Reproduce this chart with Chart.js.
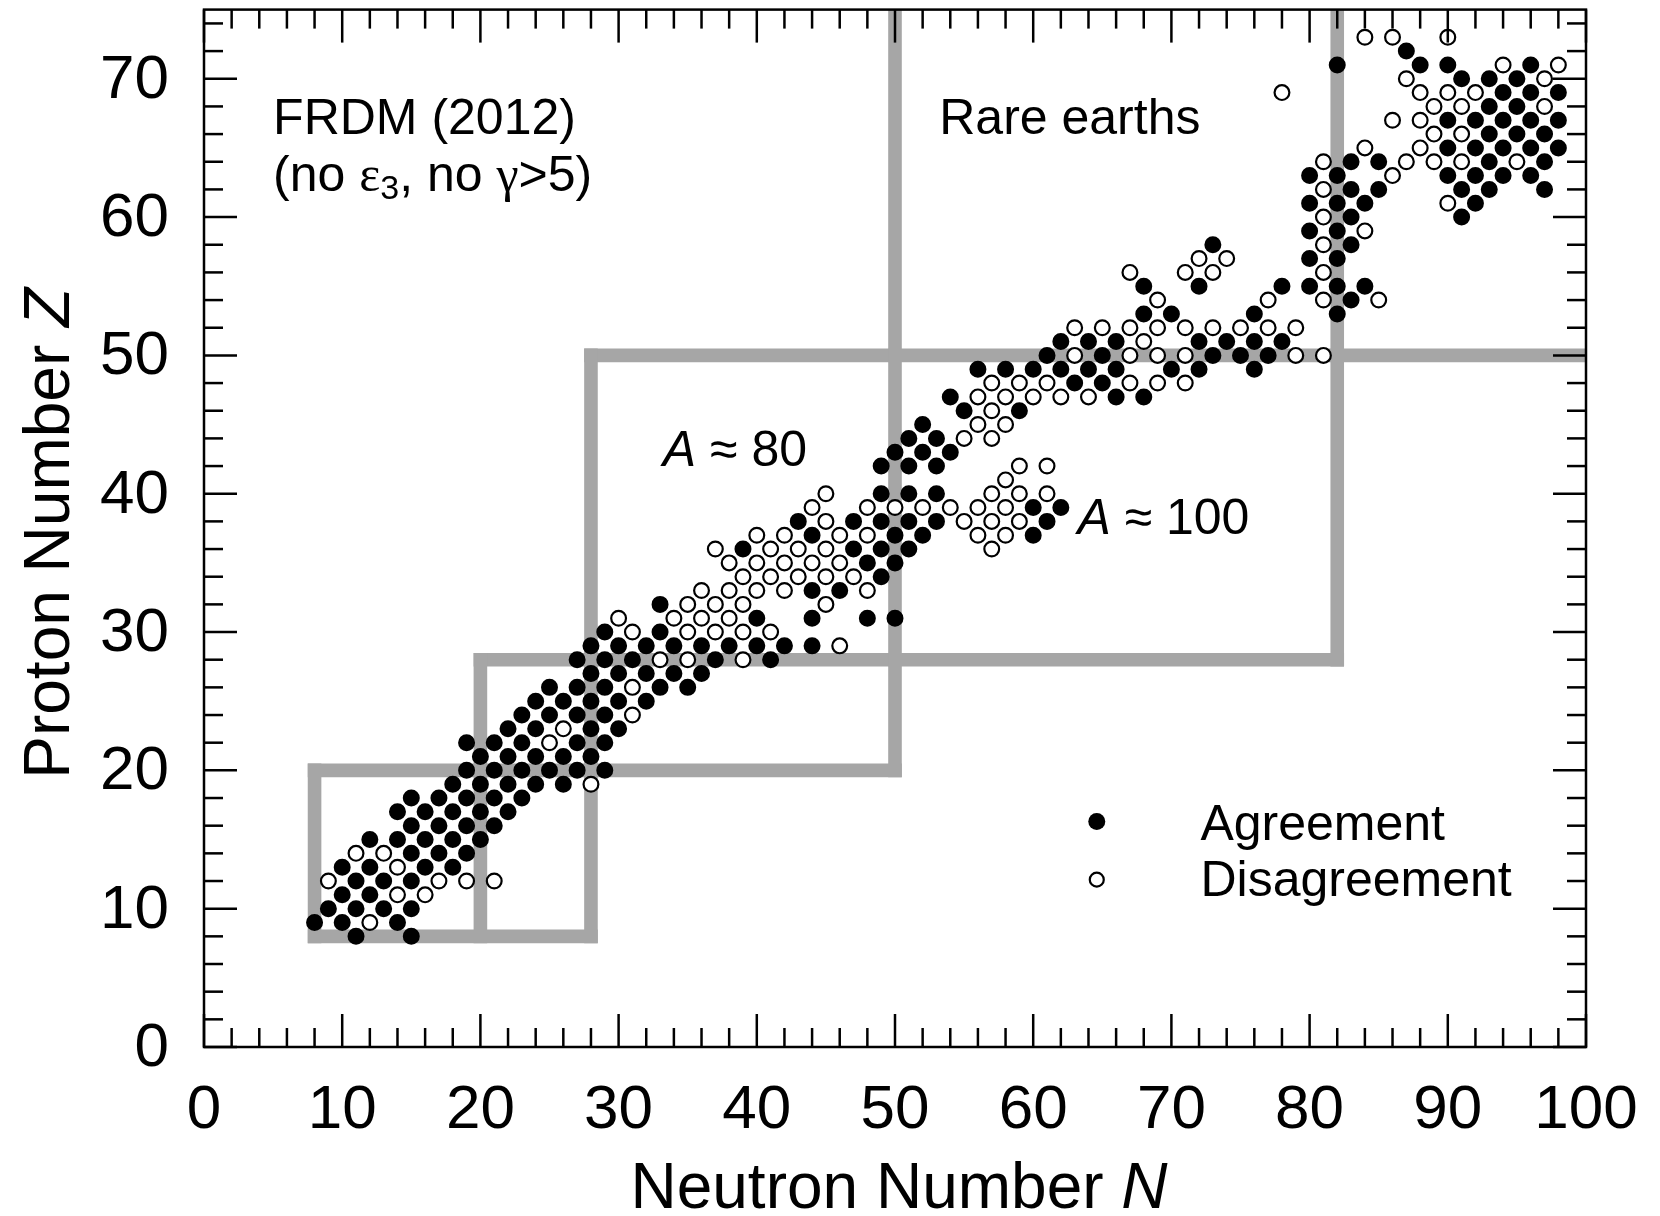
<!DOCTYPE html>
<html>
<head>
<meta charset="utf-8">
<title>FRDM (2012) agreement chart</title>
<script src="https://cdn.jsdelivr.net/npm/chart.js@4.4.1/dist/chart.umd.min.js"></script>
<style>
    html, body { margin: 0; padding: 0; background: #ffffff; }
    #wrap { width: 1660px; height: 1216px; }
</style>
</head>
<body>
<div id="wrap"><canvas id="chart" width="1660" height="1216"></canvas></div>
<script>
// --- Data: each row is [Z, [N, N, ...]] ---
const agreement = [
    [8, [11, 15]],
    [9, [8, 10, 14]],
    [10, [9, 11, 13, 15]],
    [11, [10, 12]],
    [12, [11, 13, 15]],
    [13, [10, 12, 16, 18]],
    [14, [15, 17, 19]],
    [15, [12, 14, 16, 18, 20]],
    [16, [15, 17, 19, 21]],
    [17, [14, 16, 18, 20, 22]],
    [18, [15, 17, 19, 21, 23]],
    [19, [18, 20, 22, 24, 26]],
    [20, [19, 21, 23, 25, 27, 29]],
    [21, [20, 22, 24, 26, 28]],
    [22, [19, 21, 23, 27, 29]],
    [23, [22, 24, 28, 30]],
    [24, [23, 25, 27, 29]],
    [25, [24, 26, 28, 30, 32]],
    [26, [25, 27, 29, 33, 35]],
    [27, [28, 30, 32, 34, 36]],
    [28, [27, 29, 31, 37, 41]],
    [29, [28, 30, 32, 34, 36, 38, 40, 42, 44]],
    [30, [29, 33]],
    [31, [40, 44, 48, 50]],
    [32, [33]],
    [33, [44, 46]],
    [34, [49]],
    [35, [48, 50]],
    [36, [39, 47, 49, 51]],
    [37, [44, 50, 52, 60]],
    [38, [43, 47, 49, 51, 53, 61]],
    [39, [60, 62]],
    [40, [49, 51, 53]],
    [42, [49, 51, 53]],
    [43, [50, 52, 54]],
    [44, [51, 53]],
    [45, [52]],
    [46, [55, 59]],
    [47, [54, 66, 68]],
    [48, [63, 65]],
    [49, [56, 58, 60, 62, 64, 66, 70, 72, 76]],
    [50, [61, 65, 73, 75, 77]],
    [51, [62, 64, 66, 72, 74, 76, 78]],
    [53, [68, 70, 76, 82]],
    [54, [83]],
    [55, [68, 72, 78, 80, 82, 84]],
    [57, [80, 82]],
    [58, [73, 83]],
    [59, [80, 82]],
    [60, [83, 91]],
    [61, [80, 82, 84, 92]],
    [62, [83, 85, 91, 93, 97]],
    [63, [80, 82, 90, 92, 94, 96]],
    [64, [83, 85, 93, 97]],
    [65, [90, 92, 94, 96, 98]],
    [66, [93, 95, 97]],
    [67, [90, 92, 94, 96, 98]],
    [68, [93, 95]],
    [69, [94, 96, 98]],
    [70, [91, 93, 95]],
    [71, [82, 88, 90, 96]],
    [72, [87]],
];

const disagreement = [
    [9, [12]],
    [11, [14, 16]],
    [12, [9, 17, 19, 21]],
    [13, [14]],
    [14, [11, 13]],
    [19, [28]],
    [22, [25]],
    [23, [26]],
    [24, [31]],
    [26, [31]],
    [28, [33, 35, 39]],
    [29, [46]],
    [30, [31, 35, 37, 39, 41]],
    [31, [30, 34, 36, 38]],
    [32, [35, 37, 39, 45]],
    [33, [36, 38, 40, 42, 48]],
    [34, [39, 41, 43, 45, 47]],
    [35, [38, 40, 42, 44, 46]],
    [36, [37, 41, 43, 45, 57]],
    [37, [40, 42, 46, 48, 56, 58]],
    [38, [45, 55, 57, 59]],
    [39, [44, 48, 50, 52, 54, 56, 58]],
    [40, [45, 57, 59, 61]],
    [41, [58]],
    [42, [59, 61]],
    [44, [55, 57]],
    [45, [56, 58]],
    [46, [57]],
    [47, [56, 58, 60, 62, 64]],
    [48, [57, 59, 61, 67, 69, 71]],
    [50, [63, 67, 69, 71, 79, 81]],
    [51, [68]],
    [52, [63, 65, 67, 69, 71, 73, 75, 77, 79]],
    [54, [69, 77, 81, 85]],
    [56, [67, 71, 73, 81]],
    [57, [72, 74]],
    [58, [81]],
    [59, [84]],
    [60, [81]],
    [61, [90]],
    [62, [81]],
    [63, [86]],
    [64, [81, 87, 89, 91, 95]],
    [65, [84, 88]],
    [66, [89, 91]],
    [67, [86, 88]],
    [68, [89, 91, 97]],
    [69, [78, 88, 90, 92]],
    [70, [87, 97]],
    [71, [94, 98]],
    [73, [84, 86, 90]],
];

// Grey region boundaries (magic numbers), each [[N, Z], [N, Z]]
const boundaries = [
    [[8, 8], [8, 20]],
    [[8, 20], [50, 20]],
    [[50, 20], [50, 75]],
    [[8, 8], [28, 8]],
    [[20, 8], [20, 28]],
    [[20, 28], [82, 28]],
    [[28, 8], [28, 50]],
    [[28, 50], [100, 50]],
    [[82, 28], [82, 75]],
];

const xTickLabels = ['0', '10', '20', '30', '40', '50', '60', '70', '80', '90', '100'];
const yTickLabels = ['0', '10', '20', '30', '40', '50', '60', '70'];
const xRange = [0, 100];
const yRange = [0, 75];

// --- Helpers ---
const SANS = '"Liberation Sans", Arial, Helvetica, sans-serif';
const SERIF = '"Liberation Serif", "Times New Roman", serif';

function toPoints(rows) {
    const pts = [];
    rows.forEach(([z, ns]) => ns.forEach(n => pts.push({ x: n, y: z })));
    return pts;
}

// draws a list of text runs one after another, returns total width
function drawRuns(ctx, runs, x, y, measureOnly = false) {
    let cx = x;
    runs.forEach(r => {
        ctx.font = r.font;
        if (!measureOnly) ctx.fillText(r.text, cx, y + (r.dy || 0));
        cx += ctx.measureText(r.text).width;
    });
    return cx - x;
}

function tickLine(ctx, x1, y1, x2, y2) {
    ctx.beginPath();
    ctx.moveTo(x1, y1);
    ctx.lineTo(x2, y2);
    ctx.stroke();
}

// --- Frame, inward ticks, labels and annotations ---
const decorPlugin = {
    id: 'decor',
    afterDatasetsDraw(chart) {
        const { ctx, chartArea: a, scales: { x, y } } = chart;
        ctx.save();
        ctx.strokeStyle = '#000';
        ctx.fillStyle = '#000';
        ctx.lineWidth = 2.5;
        ctx.lineCap = 'butt';

        // ticks every 2, long ones every 10, on all four sides
        for (let n = xRange[0]; n <= xRange[1]; n += 2) {
            const px = x.getPixelForValue(n);
            const len = n % 10 === 0 ? 33 : 19;
            tickLine(ctx, px, a.bottom, px, a.bottom - len);
            tickLine(ctx, px, a.top, px, a.top + len);
        }
        for (let z = yRange[0]; z <= yRange[1]; z += 2) {
            const py = y.getPixelForValue(z);
            const len = z % 10 === 0 ? 33 : 19;
            tickLine(ctx, a.left, py, a.left + len, py);
            tickLine(ctx, a.right, py, a.right - len, py);
        }
        ctx.strokeRect(a.left, a.top, a.right - a.left, a.bottom - a.top);

        // tick labels
        ctx.font = `62px ${SANS}`;
        ctx.textAlign = 'center';
        ctx.textBaseline = 'alphabetic';
        xTickLabels.forEach(t => ctx.fillText(t, x.getPixelForValue(Number(t)), a.bottom + 81));
        ctx.textAlign = 'right';
        ctx.textBaseline = 'middle';
        yTickLabels.forEach(t => ctx.fillText(t, a.left - 35, y.getPixelForValue(Number(t)) + 2));

        ctx.textAlign = 'left';
        ctx.textBaseline = 'alphabetic';

        // axis titles
        const xTitle = [
            { text: 'Neutron Number ', font: `64px ${SANS}` },
            { text: 'N', font: `italic 64px ${SANS}` },
        ];
        const xw = drawRuns(ctx, xTitle, 0, 0, true);
        drawRuns(ctx, xTitle, (a.left + a.right) / 2 + 4 - xw / 2, 1208);

        const yTitle = [
            { text: 'Proton Number ', font: `64px ${SANS}` },
            { text: 'Z', font: `italic 64px ${SANS}` },
        ];
        const yw = drawRuns(ctx, yTitle, 0, 0, true);
        ctx.save();
        ctx.translate(69, (a.top + a.bottom) / 2 + 5);
        ctx.rotate(-Math.PI / 2);
        drawRuns(ctx, yTitle, -yw / 2, 0);
        ctx.restore();

        // annotations
        const f50 = `50px ${SANS}`;
        drawRuns(ctx, [{ text: 'FRDM (2012)', font: f50 }], x.getPixelForValue(5.0), y.getPixelForValue(66.0));
        drawRuns(ctx, [
            { text: '(no ', font: f50 },
            { text: 'ε', font: `50px ${SERIF}` },
            { text: '3', font: `34px ${SANS}`, dy: 8 },
            { text: ', no ', font: f50 },
            { text: 'γ', font: `50px ${SERIF}` },
            { text: '>5)', font: f50 },
        ], x.getPixelForValue(5.0), y.getPixelForValue(61.9));
        drawRuns(ctx, [{ text: 'Rare earths', font: f50 }], x.getPixelForValue(53.2), y.getPixelForValue(66.0));
        drawRuns(ctx, [
            { text: 'A', font: `italic 50px ${SANS}` },
            { text: ' ≈ 80', font: f50 },
        ], x.getPixelForValue(33.2), y.getPixelForValue(42.0));
        drawRuns(ctx, [
            { text: 'A', font: `italic 50px ${SANS}` },
            { text: ' ≈ 100', font: f50 },
        ], x.getPixelForValue(63.2), y.getPixelForValue(37.1));

        // legend
        const lx = x.getPixelForValue(64.6);
        ctx.beginPath();
        ctx.arc(lx, y.getPixelForValue(16.3), 8.5, 0, Math.PI * 2);
        ctx.fill();
        ctx.beginPath();
        ctx.lineWidth = 2.2;
        ctx.arc(lx, y.getPixelForValue(12.1), 7, 0, Math.PI * 2);
        ctx.stroke();
        drawRuns(ctx, [{ text: 'Agreement', font: f50 }], x.getPixelForValue(72.1), y.getPixelForValue(15.0));
        drawRuns(ctx, [{ text: 'Disagreement', font: f50 }], x.getPixelForValue(72.1), y.getPixelForValue(10.9));

        ctx.restore();
    }
};

// --- Chart ---
const pointStyle = { pointRadius: 7.4, borderWidth: 2.2, borderColor: '#000', clip: false, showLine: false };

const datasets = [
    { label: 'Agreement', data: toPoints(agreement), backgroundColor: '#000', order: 0, ...pointStyle },
    { label: 'Disagreement', data: toPoints(disagreement), backgroundColor: '#fff', order: 1, ...pointStyle },
    ...boundaries.map(seg => ({
        label: 'boundary',
        data: seg.map(([n, z]) => ({ x: n, y: z })),
        showLine: true,
        borderColor: '#a6a6a6',
        backgroundColor: '#a6a6a6',
        borderWidth: 13.6,
        borderCapStyle: 'square',
        pointRadius: 0,
        tension: 0,
        clip: 0,
        order: 5,
    })),
];

new Chart(document.getElementById('chart'), {
    type: 'scatter',
    data: { datasets },
    options: {
        responsive: false,
        animation: false,
        devicePixelRatio: 1,
        events: [],
        layout: { padding: { left: 204, right: 74, top: 9, bottom: 169 } },
        plugins: { legend: { display: false }, tooltip: { enabled: false } },
        scales: {
            x: { type: 'linear', min: xRange[0], max: xRange[1], display: false },
            y: { type: 'linear', min: yRange[0], max: yRange[1], display: false },
        },
    },
    plugins: [decorPlugin],
});
</script>
</body>
</html>
